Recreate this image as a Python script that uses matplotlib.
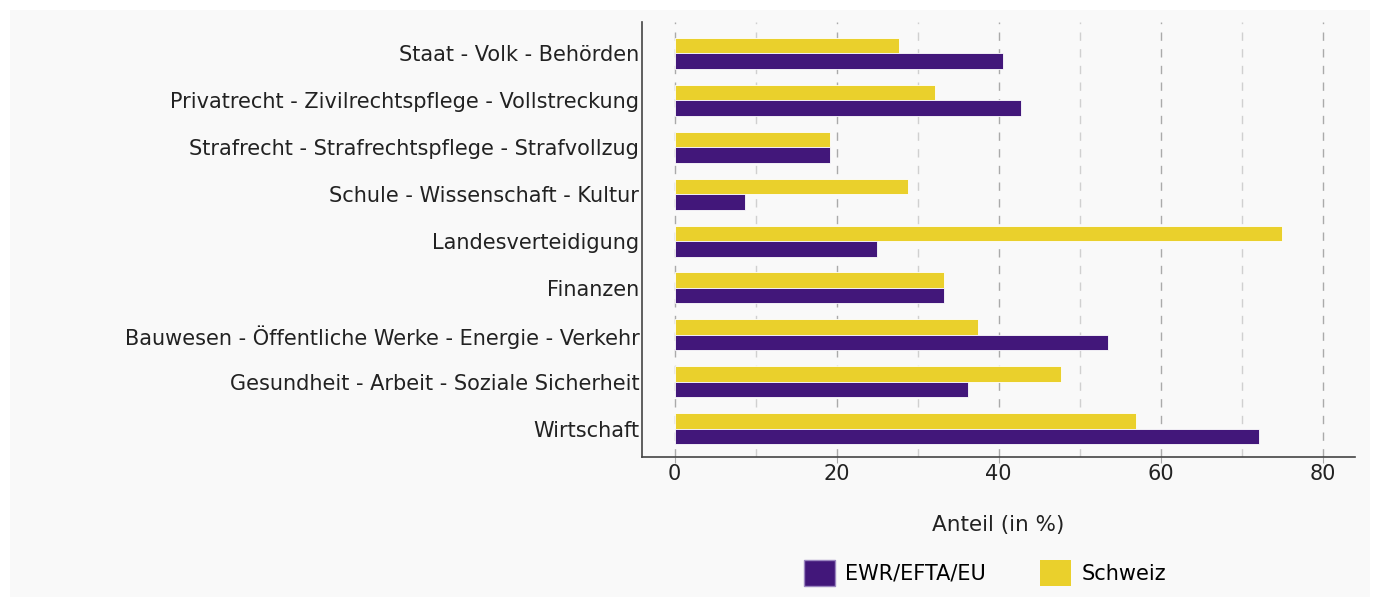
import numpy as np
import matplotlib.pyplot as plt
from matplotlib.patches import Rectangle, Patch

categories = [
    "Staat - Volk - Behörden",
    "Privatrecht - Zivilrechtspflege - Vollstreckung",
    "Strafrecht - Strafrechtspflege - Strafvollzug",
    "Schule - Wissenschaft - Kultur",
    "Landesverteidigung",
    "Finanzen",
    "Bauwesen - Öffentliche Werke - Energie - Verkehr",
    "Gesundheit - Arbeit - Soziale Sicherheit",
    "Wirtschaft",
]
ewr = [40.5, 42.8, 19.2, 8.7, 25.0, 33.3, 53.5, 36.2, 72.2]
schweiz = [27.7, 32.1, 19.2, 28.8, 75.0, 33.3, 37.5, 47.7, 57.0]
series_names = ["EWR/EFTA/EU", "Schweiz"]

purple = "#42177a"
yellow = "#ead02c"
bg = "#f9f9f9"

plt.rcParams['font.family'] = ['DejaVu Sans']

fig = plt.figure(figsize=(13.75, 6.01), dpi=100, facecolor="white")
fig.patches.append(Rectangle((10 / 1375, 4 / 601), 1360 / 1375, 587 / 601,
                             transform=fig.transFigure, facecolor=bg,
                             edgecolor="none", zorder=-10))
ax = fig.add_axes([0.467, 0.2396, 0.5185, 0.7234])
ax.set_facecolor(bg)

y = np.arange(len(categories))
h = 0.33
ax.barh(y - h / 2, schweiz, height=h, color=yellow, edgecolor="white", linewidth=0.6, zorder=3)
ax.barh(y + h / 2, ewr, height=h, color=purple, edgecolor="white", linewidth=0.6, zorder=3)

ax.set_yticks(y)
ax.set_yticklabels(categories, fontsize=15, color="#222222")
ax.set_ylim(8.6, -0.66)
ax.set_xlim(-4, 84)
ax.set_xticks([0, 20, 40, 60, 80])
ax.set_xticks([10, 30, 50, 70], minor=True)
ax.tick_params(axis="x", labelsize=15, labelcolor="#222222", length=4, pad=1, color="#aaaaaa")
ax.tick_params(axis="x", which="minor", length=0)
ax.tick_params(axis="y", length=0, pad=2)

ax.grid(axis="x", which="major", color="#aaaaaa", linestyle=(0, (6, 6)), linewidth=1, zorder=0)
ax.grid(axis="x", which="minor", color="#d0d0d0", linestyle=(0, (6, 6)), linewidth=1, zorder=0)

for s in ["top", "right"]:
    ax.spines[s].set_visible(False)
for s in ["left", "bottom"]:
    ax.spines[s].set_color("#444444")
    ax.spines[s].set_linewidth(1.2)

ax.set_xlabel("Anteil (in %)", fontsize=15.5, color="#222222", labelpad=22)

handles = [Patch(facecolor=purple, edgecolor="#9b86c0", label=series_names[0]),
           Patch(facecolor=yellow, edgecolor="none", label=series_names[1])]
fig.legend(handles=handles, loc="center", bbox_to_anchor=(985 / 1375, 1 - 573 / 601),
           ncol=2, frameon=False, fontsize=15, handlelength=1.5, handleheight=1.5,
           columnspacing=2.6, handletextpad=0.5)

fig.savefig("out.png", dpi=100, facecolor="white")
